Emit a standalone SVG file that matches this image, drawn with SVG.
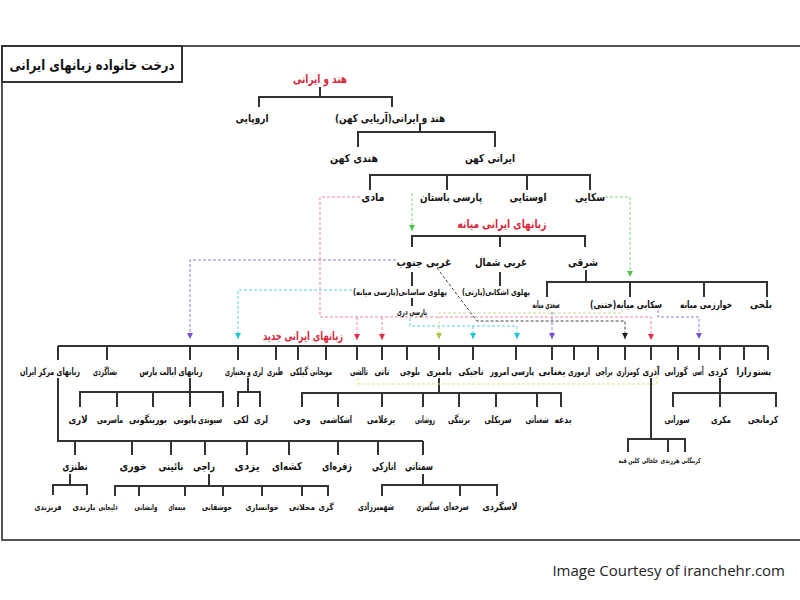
<svg xmlns="http://www.w3.org/2000/svg" width="800" height="600" viewBox="0 0 800 600">
<style>
.ln{stroke:#333;stroke-width:2;fill:none}
.t{font-family:"DejaVu Sans",sans-serif;font-weight:bold;font-size:11px;fill:#111;text-anchor:middle;direction:rtl}
.m{font-size:10px}
.s{font-size:8.5px}
.xs{font-size:7px}
.r{fill:#d8283c;font-size:12px}
.d{fill:none;stroke-width:1;stroke-dasharray:3 2}
</style>
<defs>
<marker id="aR" markerUnits="userSpaceOnUse" markerWidth="7" markerHeight="7" refX="6" refY="3" orient="auto"><path d="M0,0 L6,3 L0,6 z" fill="#e0304a"/></marker>
<marker id="aP" markerUnits="userSpaceOnUse" markerWidth="7" markerHeight="7" refX="6" refY="3" orient="auto"><path d="M0,0 L6,3 L0,6 z" fill="#7a4fd0"/></marker>
<marker id="aC" markerUnits="userSpaceOnUse" markerWidth="7" markerHeight="7" refX="6" refY="3" orient="auto"><path d="M0,0 L6,3 L0,6 z" fill="#22c4d8"/></marker>
<marker id="aG" markerUnits="userSpaceOnUse" markerWidth="7" markerHeight="7" refX="6" refY="3" orient="auto"><path d="M0,0 L6,3 L0,6 z" fill="#4cc84c"/></marker>
<marker id="aY" markerUnits="userSpaceOnUse" markerWidth="7" markerHeight="7" refX="6" refY="3" orient="auto"><path d="M0,0 L6,3 L0,6 z" fill="#a8c84a"/></marker>
<marker id="aK" markerUnits="userSpaceOnUse" markerWidth="7" markerHeight="7" refX="6" refY="3" orient="auto"><path d="M0,0 L6,3 L0,6 z" fill="#222"/></marker>
</defs>
<rect x="0" y="0" width="800" height="600" fill="#fff"/>
<rect x="2" y="46" width="810" height="494" fill="none" stroke="#555" stroke-width="2"/>
<g id="title"><rect x="2" y="46" width="180" height="36" fill="none" stroke="#333" stroke-width="2"/>
<text class="t" x="92" y="70" style="font-size:14px" textLength="165" lengthAdjust="spacingAndGlyphs">درخت خانواده زبانهای ایرانی</text></g>

<g id="connectors">
<path class="ln" d="M320 87V97M259 107V97H392V107"/>
<path class="ln" d="M420 123V132M358 147V132H495V147"/>
<path class="ln" d="M370 190V175H590V190M447 175V190M527 175V190"/>
<path class="ln" d="M412 247V236H585V247M500 236V247"/>
<path class="ln" d="M412 272V286M412 298V306M500 272V286"/>
<path class="ln" d="M586 270V282M547 297V282H767V297M630 282V297M704 282V297"/>
<path class="ln" d="M58 346H768M58 346V360M107 346V360M190 346V360M238 346V360M276 346V360M298 346V360M326 346V360M357 346V360M382 346V360M407 346V360M439 346V360M473 346V360M516 346V360M552 346V360M574 346V360M598 346V360M625 346V360M651 346V360M678 346V360M699 346V360M720 346V360M744 346V360M768 346V360"/>
<path class="ln" d="M190 378V392M80 407V392H223V407M117 392V407M153 392V407M190 392V407"/>
<path class="ln" d="M248 378V392M238 407V392H260V407"/>
<path class="ln" d="M439 378V393M302 407V393H561V407M338 393V407M382 393V407M423 393V407M459 393V407M496 393V407M537 393V407"/>
<path class="ln" d="M720 378V393M673 407V393H776V407M720 393V407"/>
<path class="ln" d="M651 378V439M628 452V439H685V452M668 439V452"/>
<path class="ln" d="M58 378V441H423M75 441V455M132 441V455M171 441V455M205 441V455M247 441V455M289 441V455M338 441V455M378 441V455M423 441V455"/>
<path class="ln" d="M70 474V485M53 495V485H87V495"/>
<path class="ln" d="M209 474V486M115 496V486H328V496M139 486V496M185 486V496M223 486V496M262 486V496M302 486V496"/>
<path class="ln" d="M423 474V485M382 496V485H497V496M460 485V496"/>
<path class="d" stroke="#e3e07a" stroke-dasharray="1.5 2" d="M657 376V384H358V376"/>
<path class="d" stroke="#e58a9c" d="M360 197H320V317H651V340" marker-end="url(#aR)"/>
<path class="d" stroke="#e58a9c" d="M357 317V340" marker-end="url(#aR)"/>
<path class="d" stroke="#e58a9c" d="M382 317V340" marker-end="url(#aR)"/>
<path class="d" stroke="#9a7ad8" d="M396 260H190V339" marker-end="url(#aP)"/>
<path class="d" stroke="#9a7ad8" d="M552 312V339" marker-end="url(#aP)"/>
<path class="d" stroke="#9a7ad8" d="M658 310V317H699V339" marker-end="url(#aP)"/>
<path class="d" stroke="#5fd0e0" d="M352 290H238V339" marker-end="url(#aC)"/>
<path class="d" stroke="#5fd0e0" d="M410 318V326H517V339" marker-end="url(#aC)"/>
<path class="d" stroke="#5fd0e0" d="M473 326V339" marker-end="url(#aC)"/>
<path class="d" stroke="#444" d="M437 268L477 321H625V339" marker-end="url(#aK)"/>
<path class="d" stroke="#7ad87a" d="M605 197H630V277" marker-end="url(#aG)"/>
<path class="d" stroke="#7ad87a" d="M412 193V231" marker-end="url(#aG)"/>
<path class="d" stroke="#c8d890" d="M622 309V313H439V339" marker-end="url(#aY)"/>
</g>

<g id="n-indoiran"><text class="t r" x="320" y="83" textLength="54" lengthAdjust="spacingAndGlyphs">هند و ایرانی</text></g>
<g id="n-europe"><text class="t" x="252" y="122" textLength="33" lengthAdjust="spacingAndGlyphs">اروپایی</text></g>
<g id="n-aryan"><text class="t" x="390" y="122" textLength="110" lengthAdjust="spacingAndGlyphs">هند و ایرانی(آریایی کهن)</text></g>
<g id="n-oldindic"><text class="t" x="354" y="162" textLength="48" lengthAdjust="spacingAndGlyphs">هندی کهن</text></g>
<g id="n-oldiran"><text class="t" x="490" y="162" textLength="50" lengthAdjust="spacingAndGlyphs">ایرانی کهن</text></g>
<g id="n-median"><text class="t" x="373" y="201" textLength="23" lengthAdjust="spacingAndGlyphs">مادی</text></g>
<g id="n-oldpersian"><text class="t" x="451" y="201" textLength="62" lengthAdjust="spacingAndGlyphs">پارسی باستان</text></g>
<g id="n-avestan"><text class="t" x="528" y="201" textLength="37" lengthAdjust="spacingAndGlyphs">اوستایی</text></g>
<g id="n-scythian"><text class="t" x="590" y="201" textLength="30" lengthAdjust="spacingAndGlyphs">سکایی</text></g>

<g id="n-middle"><text class="t r" x="502" y="228" textLength="89" lengthAdjust="spacingAndGlyphs">زبانهای ایرانی میانه</text></g>
<g id="n-sw"><text class="t" x="424" y="266" textLength="55" lengthAdjust="spacingAndGlyphs">غربی جنوب</text></g>
<g id="n-nw"><text class="t" x="501" y="266" textLength="52" lengthAdjust="spacingAndGlyphs">غربی شمال</text></g>
<g id="n-east"><text class="t" x="583" y="266" textLength="30" lengthAdjust="spacingAndGlyphs">شرقی</text></g>
<g id="n-pahlavi"><text class="t s" x="400" y="295" textLength="94" lengthAdjust="spacingAndGlyphs">پهلوی ساسانی(پارسی میانه)</text></g>
<g id="n-dari"><text class="t s" x="412" y="315" textLength="30" lengthAdjust="spacingAndGlyphs">پارسی دری</text></g>
<g id="n-parthian"><text class="t s" x="496" y="295" textLength="68" lengthAdjust="spacingAndGlyphs">پهلوی اشکانی(پارتی)</text></g>
<g id="n-sogdian"><text class="t m" x="546" y="308" textLength="27" lengthAdjust="spacingAndGlyphs">سغدی میانه</text></g>
<g id="n-khotan"><text class="t m" x="626" y="308" textLength="72" lengthAdjust="spacingAndGlyphs">سکایی میانه(ختنی)</text></g>
<g id="n-khwarezm"><text class="t m" x="706" y="308" textLength="52" lengthAdjust="spacingAndGlyphs">خوارزمی میانه</text></g>
<g id="n-bactrian"><text class="t m" x="761" y="308" textLength="22" lengthAdjust="spacingAndGlyphs">بلخی</text></g>

<g id="n-new"><text class="t r" x="303" y="340" textLength="80" lengthAdjust="spacingAndGlyphs">زبانهای ایرانی جدید</text></g>
<g id="n-central"><text class="t m" x="50" y="375" textLength="60" lengthAdjust="spacingAndGlyphs">زبانهای مرکز ایران</text></g>
<g id="n-bashkardi"><text class="t m" x="105" y="375" textLength="24" lengthAdjust="spacingAndGlyphs">بشاگردی</text></g>
<g id="n-fars"><text class="t m" x="171" y="375" textLength="63" lengthAdjust="spacingAndGlyphs">زبانهای ایالت پارس</text></g>
<g id="n-lori"><text class="t m" x="244" y="375" textLength="38" lengthAdjust="spacingAndGlyphs">لری و بختیاری</text></g>
<g id="n-tabari"><text class="t m" x="275" y="375" textLength="16" lengthAdjust="spacingAndGlyphs">طبری</text></g>
<g id="n-gilaki"><text class="t m" x="299" y="375" textLength="18" lengthAdjust="spacingAndGlyphs">گیلکی</text></g>
<g id="n-munji"><text class="t m" x="321" y="375" textLength="22" lengthAdjust="spacingAndGlyphs">مونجانی</text></g>
<g id="n-talysh"><text class="t m" x="359" y="375" textLength="18" lengthAdjust="spacingAndGlyphs">تالشی</text></g>
<g id="n-tati"><text class="t m" x="382" y="375" textLength="15" lengthAdjust="spacingAndGlyphs">تاتی</text></g>
<g id="n-baluchi"><text class="t m" x="410" y="375" textLength="20" lengthAdjust="spacingAndGlyphs">بلوچی</text></g>
<g id="n-pamiri"><text class="t m" x="439" y="375" textLength="25" lengthAdjust="spacingAndGlyphs">پامیری</text></g>
<g id="n-tajik"><text class="t m" x="471" y="375" textLength="25" lengthAdjust="spacingAndGlyphs">تاجیکی</text></g>
<g id="n-persian"><text class="t m" x="512" y="375" textLength="44" lengthAdjust="spacingAndGlyphs">پارسی امروز</text></g>
<g id="n-yaghnobi"><text class="t m" x="552" y="375" textLength="27" lengthAdjust="spacingAndGlyphs">یغنابی</text></g>
<g id="n-ormuri"><text class="t m" x="579" y="375" textLength="22" lengthAdjust="spacingAndGlyphs">ارموری</text></g>
<g id="n-parachi"><text class="t m" x="604" y="375" textLength="17" lengthAdjust="spacingAndGlyphs">پراچی</text></g>
<g id="n-kumzari"><text class="t m" x="628" y="375" textLength="23" lengthAdjust="spacingAndGlyphs">کومزاری</text></g>
<g id="n-azari"><text class="t m" x="651" y="375" textLength="17" lengthAdjust="spacingAndGlyphs">آذری</text></g>
<g id="n-gurani"><text class="t m" x="676" y="375" textLength="23" lengthAdjust="spacingAndGlyphs">گورانی</text></g>
<g id="n-ossetic"><text class="t m" x="698" y="375" textLength="11" lengthAdjust="spacingAndGlyphs">آسی</text></g>
<g id="n-kurdish"><text class="t m" x="718" y="375" textLength="20" lengthAdjust="spacingAndGlyphs">کردی</text></g>
<g id="n-zaza"><text class="t m" x="744" y="375" textLength="15" lengthAdjust="spacingAndGlyphs">زازا</text></g>
<g id="n-pashto"><text class="t m" x="762" y="375" textLength="18" lengthAdjust="spacingAndGlyphs">پشتو</text></g>

<g id="n-lari"><text class="t m" x="78" y="423" textLength="19" lengthAdjust="spacingAndGlyphs">لاری</text></g>
<g id="n-masarmi"><text class="t m" x="110" y="423" textLength="26" lengthAdjust="spacingAndGlyphs">ماسرمی</text></g>
<g id="n-boringuni"><text class="t m" x="148" y="423" textLength="38" lengthAdjust="spacingAndGlyphs">بورینگونی</text></g>
<g id="n-papuni"><text class="t m" x="185" y="423" textLength="23" lengthAdjust="spacingAndGlyphs">پاپونی</text></g>
<g id="n-sivandi"><text class="t m" x="210" y="423" textLength="24" lengthAdjust="spacingAndGlyphs">سیوندی</text></g>
<g id="n-laki"><text class="t m" x="241" y="423" textLength="15" lengthAdjust="spacingAndGlyphs">لکی</text></g>
<g id="n-lori2"><text class="t m" x="261" y="423" textLength="14" lengthAdjust="spacingAndGlyphs">لری</text></g>
<g id="n-wakhi"><text class="t m" x="302" y="423" textLength="17" lengthAdjust="spacingAndGlyphs">وخی</text></g>
<g id="n-ishkashmi"><text class="t m" x="336" y="423" textLength="32" lengthAdjust="spacingAndGlyphs">اشکاشمی</text></g>
<g id="n-yazghulami"><text class="t m" x="381" y="423" textLength="28" lengthAdjust="spacingAndGlyphs">یزغلامی</text></g>
<g id="n-roshani"><text class="t m" x="425" y="423" textLength="20" lengthAdjust="spacingAndGlyphs">روشانی</text></g>
<g id="n-bartangi"><text class="t m" x="459" y="423" textLength="22" lengthAdjust="spacingAndGlyphs">برتنگی</text></g>
<g id="n-sarikoli"><text class="t m" x="498" y="423" textLength="27" lengthAdjust="spacingAndGlyphs">سریکلی</text></g>
<g id="n-shughni"><text class="t m" x="537" y="423" textLength="23" lengthAdjust="spacingAndGlyphs">شغنانی</text></g>
<g id="n-yidgha"><text class="t m" x="563" y="423" textLength="17" lengthAdjust="spacingAndGlyphs">یدغه</text></g>
<g id="n-sorani"><text class="t m" x="677" y="423" textLength="25" lengthAdjust="spacingAndGlyphs">سورانی</text></g>
<g id="n-mukri"><text class="t m" x="721" y="423" textLength="20" lengthAdjust="spacingAndGlyphs">مکری</text></g>
<g id="n-kurmanji"><text class="t m" x="763" y="423" textLength="30" lengthAdjust="spacingAndGlyphs">کرمانجی</text></g>

<g id="n-kalin"><text class="t xs" x="629" y="463" textLength="21" lengthAdjust="spacingAndGlyphs">کلین قیه</text></g>
<g id="n-khalkhali"><text class="t xs" x="650" y="463" textLength="16" lengthAdjust="spacingAndGlyphs">خلخالی</text></g>
<g id="n-harzandi"><text class="t xs" x="670" y="463" textLength="19" lengthAdjust="spacingAndGlyphs">هرزندی</text></g>
<g id="n-karingani"><text class="t xs" x="691" y="463" textLength="19" lengthAdjust="spacingAndGlyphs">کرینگانی</text></g>

<g id="n-natanzi"><text class="t" x="75" y="470" textLength="25" lengthAdjust="spacingAndGlyphs">نطنزی</text></g>
<g id="n-khuri"><text class="t" x="133" y="470" textLength="27" lengthAdjust="spacingAndGlyphs">خوری</text></g>
<g id="n-naini"><text class="t" x="171" y="470" textLength="25" lengthAdjust="spacingAndGlyphs">نائینی</text></g>
<g id="n-raji"><text class="t" x="204" y="470" textLength="22" lengthAdjust="spacingAndGlyphs">راجی</text></g>
<g id="n-yazdi"><text class="t" x="247" y="470" textLength="25" lengthAdjust="spacingAndGlyphs">یزدی</text></g>
<g id="n-kesheh"><text class="t" x="287" y="470" textLength="30" lengthAdjust="spacingAndGlyphs">کشه‌ای</text></g>
<g id="n-zefreh"><text class="t" x="337" y="470" textLength="30" lengthAdjust="spacingAndGlyphs">زفره‌ای</text></g>
<g id="n-anaraki"><text class="t" x="384" y="470" textLength="24" lengthAdjust="spacingAndGlyphs">انارکی</text></g>
<g id="n-semnani"><text class="t" x="419" y="470" textLength="28" lengthAdjust="spacingAndGlyphs">سمنانی</text></g>

<g id="n-farizandi"><text class="t s" x="48" y="510" textLength="27" lengthAdjust="spacingAndGlyphs">فریزندی</text></g>
<g id="n-barandi"><text class="t s" x="84" y="510" textLength="23" lengthAdjust="spacingAndGlyphs">بارندی</text></g>
<g id="n-delijani"><text class="t s" x="108" y="510" textLength="19" lengthAdjust="spacingAndGlyphs">دلیجانی</text></g>
<g id="n-vanishani"><text class="t s" x="146" y="510" textLength="23" lengthAdjust="spacingAndGlyphs">وانشانی</text></g>
<g id="n-meymei"><text class="t s" x="177" y="510" textLength="17" lengthAdjust="spacingAndGlyphs">میمه‌ای</text></g>
<g id="n-jowshaqani"><text class="t s" x="217" y="510" textLength="30" lengthAdjust="spacingAndGlyphs">جوشقانی</text></g>
<g id="n-khansari"><text class="t s" x="262" y="510" textLength="33" lengthAdjust="spacingAndGlyphs">خوانساری</text></g>
<g id="n-mahallati"><text class="t s" x="302" y="510" textLength="26" lengthAdjust="spacingAndGlyphs">محلاتی</text></g>
<g id="n-gazi"><text class="t s" x="326" y="510" textLength="15" lengthAdjust="spacingAndGlyphs">گزی</text></g>
<g id="n-shahmirzadi"><text class="t m" x="376" y="510" textLength="36" lengthAdjust="spacingAndGlyphs">شهمیرزادی</text></g>
<g id="n-sangsari"><text class="t m" x="428" y="510" textLength="23" lengthAdjust="spacingAndGlyphs">سنگسری</text></g>
<g id="n-sorkhei"><text class="t m" x="456" y="510" textLength="25" lengthAdjust="spacingAndGlyphs">سرخه‌ای</text></g>
<g id="n-lasgerdi"><text class="t m" x="500" y="510" textLength="35" lengthAdjust="spacingAndGlyphs">لاسگردی</text></g>

<text x="785" y="576" text-anchor="end" style="font-family:'Open Sans',sans-serif;font-size:15px;fill:#222">Image Courtesy of iranchehr.com</text>
</svg>
